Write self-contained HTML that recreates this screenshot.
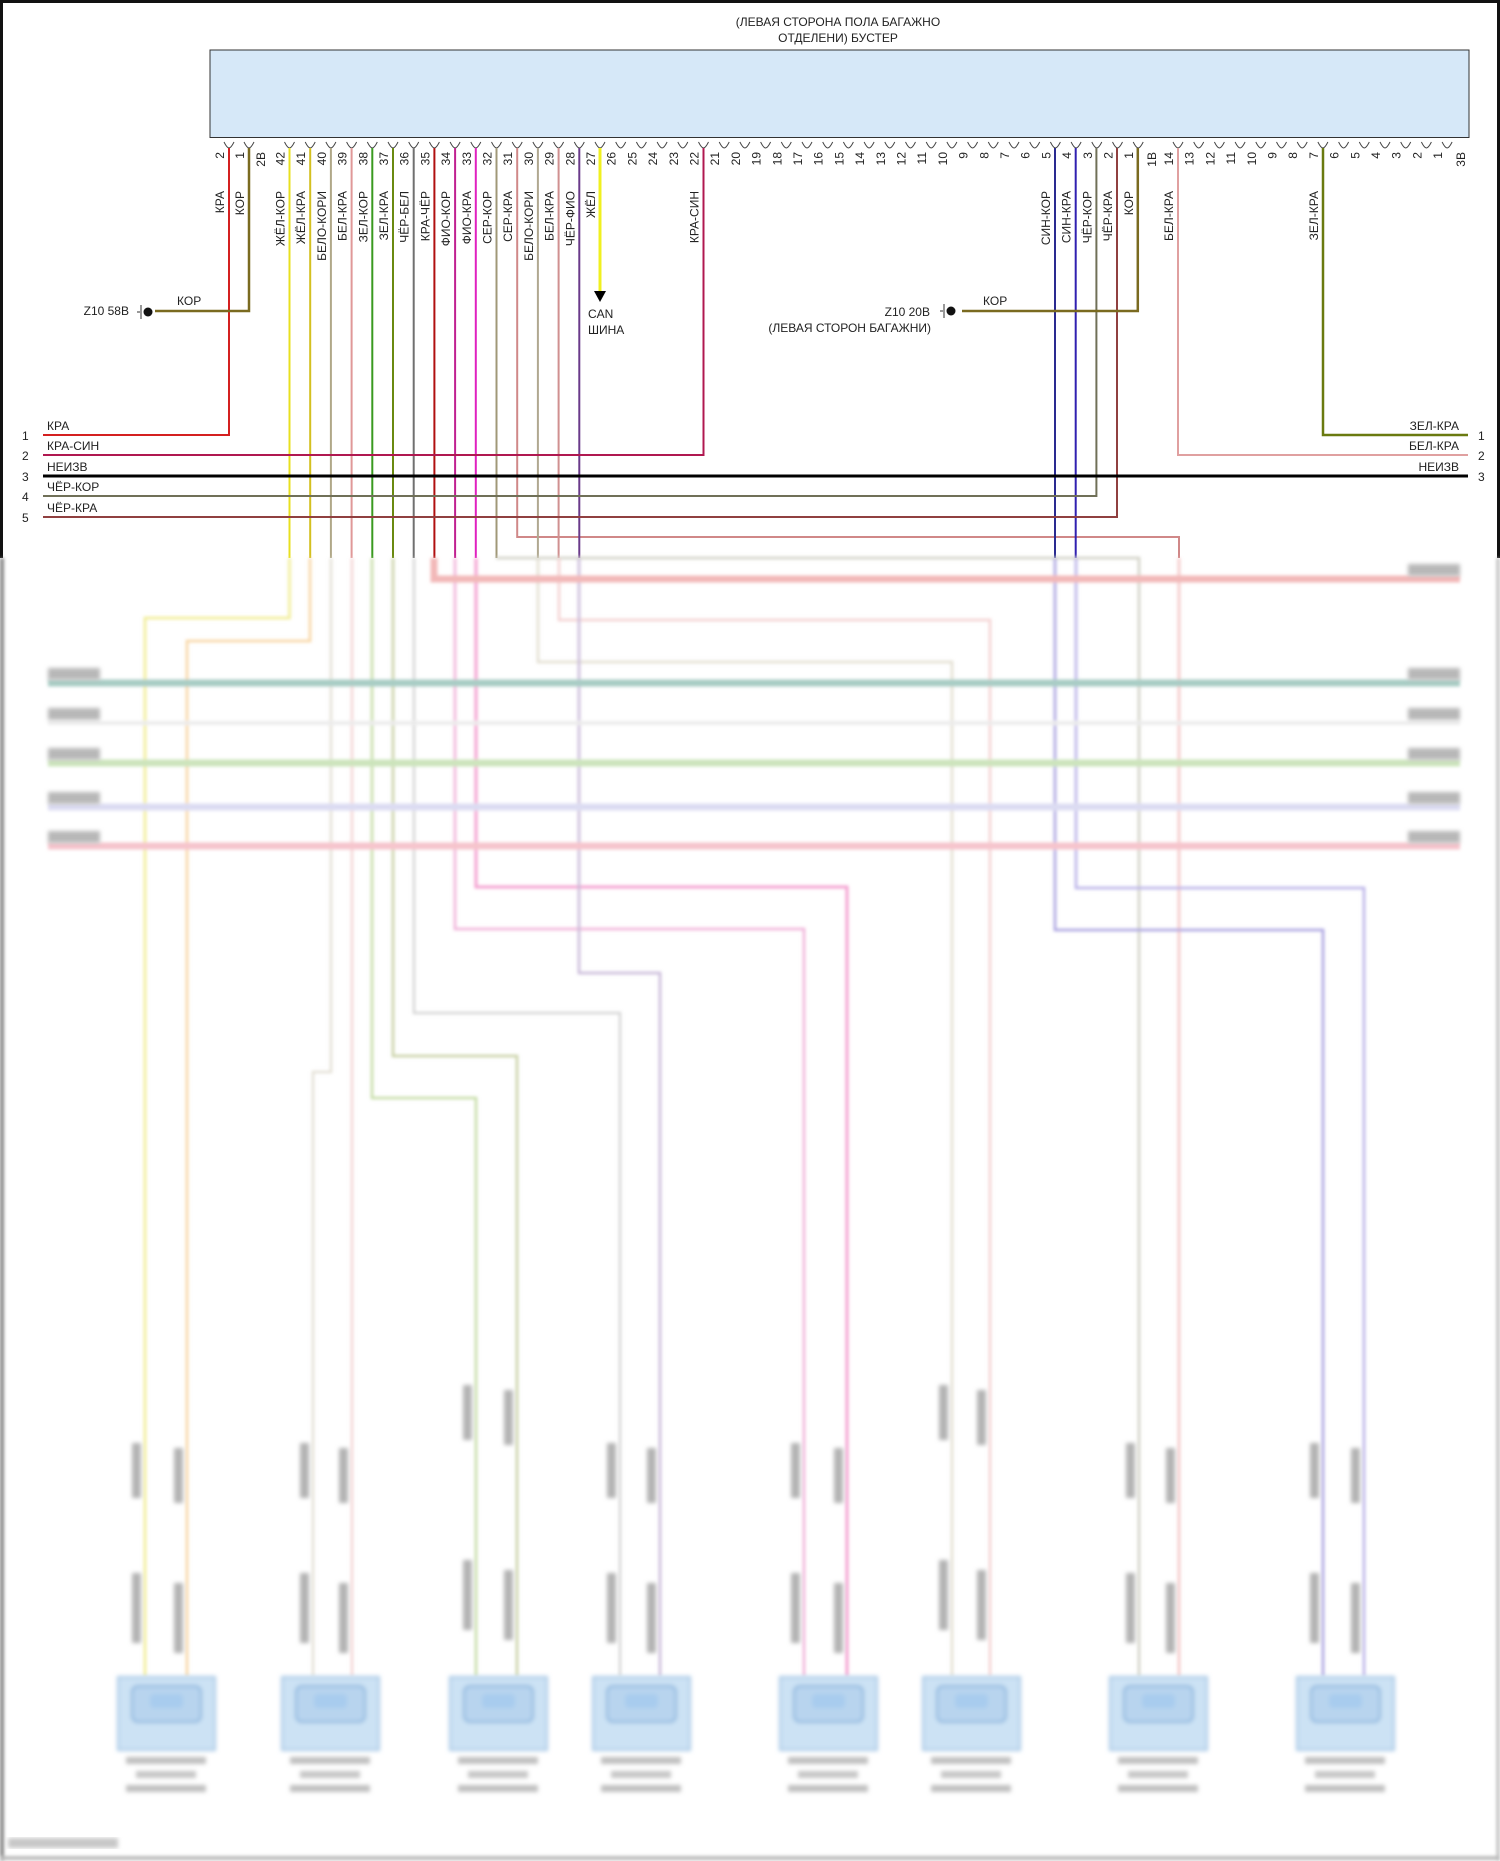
<!DOCTYPE html>
<html><head><meta charset="utf-8"><style>
html,body{margin:0;padding:0;background:#fff}
svg{display:block}
text{font-family:"Liberation Sans",sans-serif;font-size:12px;fill:#222}
</style></head><body>
<svg width="1500" height="1861" viewBox="0 0 1500 1861" xmlns="http://www.w3.org/2000/svg">
<defs>
<filter id="b" x="-5%" y="-5%" width="110%" height="110%"><feGaussianBlur stdDeviation="1.6"/></filter>
<filter id="b2"><feGaussianBlur stdDeviation="2.2"/></filter>
</defs>
<rect x="0" y="0" width="1500" height="1861" fill="#fff"/>
<line x1="0" y1="1.5" x2="1500" y2="1.5" stroke="#111" stroke-width="3"/>
<line x1="1.5" y1="0" x2="1.5" y2="558" stroke="#111" stroke-width="3"/>
<line x1="1498.5" y1="0" x2="1498.5" y2="558" stroke="#111" stroke-width="3"/>
<g filter="url(#b)">
<line x1="2" y1="558" x2="2" y2="1861" stroke="#888" stroke-width="4"/>
<line x1="1498" y1="558" x2="1498" y2="1861" stroke="#bbb" stroke-width="3"/>
<line x1="0" y1="1858" x2="1500" y2="1858" stroke="#bbb" stroke-width="4"/>
</g>

<text x="838" y="26" text-anchor="middle">(ЛЕВАЯ СТОРОНА ПОЛА БАГАЖНО</text>
<text x="838" y="42" text-anchor="middle">ОТДЕЛЕНИ) БУСТЕР</text>
<rect x="210" y="50" width="1259" height="87.5" fill="#d6e8f8" stroke="#333" stroke-width="1"/>

<g id="pins" fill="none" stroke="#444" stroke-width="1"></g>
<g id="nums"></g>

<g fill="none" stroke-width="2">
<path d="M229 148V435H43" stroke="#d42020"/>
<path d="M249 148V311H155" stroke="#7a6a20" stroke-width="2.5"/>
<path d="M289.5 148V558" stroke="#e8e020"/>
<path d="M310.2 148V558" stroke="#d4c020"/>
<path d="M330.9 148V558" stroke="#b0a888"/>
<path d="M351.6 148V558" stroke="#e09898"/>
<path d="M372.3 148V558" stroke="#3a9a20"/>
<path d="M393 148V558" stroke="#6a8a10"/>
<path d="M413.7 148V558" stroke="#707070"/>
<path d="M434.4 148V558" stroke="#b01010"/>
<path d="M455.1 148V558" stroke="#c02090"/>
<path d="M475.8 148V558" stroke="#e020c0"/>
<path d="M496.5 148V558" stroke="#a09878"/>
<path d="M517.2 148V537H1179V558" stroke="#d08888"/>
<path d="M537.9 148V558" stroke="#b0a890"/>
<path d="M558.6 148V558" stroke="#d09090"/>
<path d="M579.3 148V558" stroke="#6a3a8a"/>
<path d="M600 148V292" stroke="#f0f020" stroke-width="3"/>
<path d="M703.5 148V455H43" stroke="#b01850"/>
<path d="M1055 148V558" stroke="#2a2a90"/>
<path d="M1075.7 148V558" stroke="#3020b0"/>
<path d="M1096.4 148V496H43" stroke="#707058"/>
<path d="M1117 148V517H43" stroke="#904040"/>
<path d="M1137.8 148V311H962" stroke="#7a6a20" stroke-width="2.5"/>
<path d="M1178 148V455H1468" stroke="#e0a0a0"/>
<path d="M1323 148V435H1468" stroke="#6a7a10" stroke-width="2.5"/>
<path d="M43 476H1468" stroke="#000" stroke-width="3"/>
</g>
<polygon points="594,291 606,291 600,302" fill="#000"/>
<text x="588" y="318">CAN</text>
<text x="588" y="334">ШИНА</text>

<text x="129" y="315" text-anchor="end">Z10 58B</text>
<g stroke="#333" stroke-width="1"><line x1="137" y1="312" x2="140" y2="312"/><line x1="141" y1="305" x2="141" y2="319"/></g>
<circle cx="148" cy="312" r="4.5" fill="#111"/>
<text x="177" y="305">КОР</text>
<text x="930" y="316" text-anchor="end">Z10 20B</text>
<text x="931" y="332" text-anchor="end">(ЛЕВАЯ СТОРОН БАГАЖНИ)</text>
<g stroke="#333" stroke-width="1"><line x1="940" y1="311" x2="943" y2="311"/><line x1="944" y1="304" x2="944" y2="318"/></g>
<circle cx="951" cy="311" r="4.5" fill="#111"/>
<text x="983" y="305">КОР</text>

<text x="47" y="430">КРА</text>
<text x="47" y="450">КРА-СИН</text>
<text x="47" y="471">НЕИЗВ</text>
<text x="47" y="491">ЧЁР-КОР</text>
<text x="47" y="512">ЧЁР-КРА</text>
<text x="22" y="440">1</text>
<text x="22" y="460">2</text>
<text x="22" y="481">3</text>
<text x="22" y="501">4</text>
<text x="22" y="522">5</text>
<text x="1459" y="430" text-anchor="end">ЗЕЛ-КРА</text>
<text x="1459" y="450" text-anchor="end">БЕЛ-КРА</text>
<text x="1459" y="471" text-anchor="end">НЕИЗВ</text>
<text x="1478" y="440">1</text>
<text x="1478" y="460">2</text>
<text x="1478" y="481">3</text>

<g filter="url(#b)" fill="none" stroke-width="2.5">
<path d="M289.5 558V618H145V1676" stroke="#f0ec90"/>
<path d="M310 558V641H187V1676" stroke="#f8d4a0"/>
<path d="M331 558V1072H313V1676" stroke="#e4e0d6"/>
<path d="M352 558V1676" stroke="#f4d4d4"/>
<path d="M372 558V1098H476V1676" stroke="#c4dca4"/>
<path d="M393 558V1056H517V1676" stroke="#c8d0a4"/>
<path d="M414 558V1013H620V1676" stroke="#d6d6d6"/>
<path d="M455 558V929H804V1676" stroke="#f0b0d8"/>
<path d="M476 558V887H847V1676" stroke="#f4a0d0" stroke-width="3"/>
<path d="M496 558H1139V1676" stroke="#d0d0c4"/>
<path d="M1179 558V1676" stroke="#f4c4c4"/>
<path d="M538 558V662H952V1676" stroke="#e2ded0"/>
<path d="M559 558V620H990V1676" stroke="#f4d0d0"/>
<path d="M579 558V973H660V1676" stroke="#c8b8d8"/>
<path d="M1055 558V930H1323V1676" stroke="#a8a0e0"/>
<path d="M1076 558V888H1364V1676" stroke="#b8b0e8"/>
<path d="M434 558V579H1460" stroke="#f2b8b8" stroke-width="7"/>
<path d="M48 683H1460" stroke="#a8ccc4" stroke-width="7"/>
<path d="M48 723H1460" stroke="#ececec" stroke-width="4"/>
<path d="M48 763H1460" stroke="#cce4bc" stroke-width="7"/>
<path d="M48 807H1460" stroke="#dcdcf2" stroke-width="7"/>
<path d="M48 846H1460" stroke="#f6c4cc" stroke-width="7"/>
</g>
<g filter="url(#b2)" fill="#b8b8b8">
<rect x="48" y="668" width="52" height="12"/><rect x="48" y="708" width="52" height="12"/><rect x="48" y="748" width="52" height="12"/><rect x="48" y="792" width="52" height="12"/><rect x="48" y="831" width="52" height="12"/>
<rect x="1408" y="564" width="52" height="12"/><rect x="1408" y="668" width="52" height="12"/><rect x="1408" y="708" width="52" height="12"/><rect x="1408" y="748" width="52" height="12"/><rect x="1408" y="792" width="52" height="12"/><rect x="1408" y="831" width="52" height="12"/>
</g>
<g id="bottom"></g>
<g filter="url(#b2)"><rect x="8" y="1838" width="110" height="10" fill="#c8c8c8"/></g>
<script>
var ns="http://www.w3.org/2000/svg";
function el(p,t,a,txt){var e=document.createElementNS(ns,t);for(var k in a)e.setAttribute(k,a[k]);if(txt)e.textContent=txt;p.appendChild(e);return e;}
var pins=document.getElementById('pins'),nums=document.getElementById('nums');
function sock(x){el(pins,'path',{d:'M'+(x-5)+' 142 Q'+(x-2)+' 148 '+x+' 148 Q'+(x+2)+' 148 '+(x+5)+' 142'});}
function num(x,t){el(nums,'text',{transform:'translate('+x+',152) rotate(-90)','text-anchor':'end','font-size':'12'},t);}
function lab(x,t){el(nums,'text',{transform:'translate('+x+',191) rotate(-90)','text-anchor':'end','font-size':'12'},t);}
sock(229);num(224,'2');sock(249);num(244,'1');num(265,'2B');
for(var k=42;k>=1;k--){var x=289.5+(42-k)*20.7;sock(x);num(x-5,String(k));}
num(1156,'1B');
for(var k=14;k>=1;k--){var x=1178+(14-k)*20.7;sock(x);num(x-5,String(k));}
num(1465,'3B');
var L=[[229,'КРА'],[249,'КОР'],[289.5,'ЖЁЛ-КОР'],[310.2,'ЖЁЛ-КРА'],[330.9,'БЕЛО-КОРИ'],[351.6,'БЕЛ-КРА'],[372.3,'ЗЕЛ-КОР'],[393,'ЗЕЛ-КРА'],[413.7,'ЧЁР-БЕЛ'],[434.4,'КРА-ЧЁР'],[455.1,'ФИО-КОР'],[475.8,'ФИО-КРА'],[496.5,'СЕР-КОР'],[517.2,'СЕР-КРА'],[537.9,'БЕЛО-КОРИ'],[558.6,'БЕЛ-КРА'],[579.3,'ЧЁР-ФИО'],[600,'ЖЁЛ'],[703.5,'КРА-СИН'],[1055,'СИН-КОР'],[1075.7,'СИН-КРА'],[1096.4,'ЧЁР-КОР'],[1117,'ЧЁР-КРА'],[1137.8,'КОР'],[1178,'БЕЛ-КРА'],[1323,'ЗЕЛ-КРА']];
L.forEach(function(a){lab(a[0]-5,a[1]);});
var bot=document.getElementById('bottom');
var g=el(bot,'g',{filter:'url(#b2)'});
var boxes=[[118,145,187],[282,313,352],[450,476,517],[593,620,660],[780,804,847],[923,952,990],[1110,1139,1179],[1297,1323,1364]];
var high={450:1,923:1};
boxes.forEach(function(b){
 var x=b[0];
 el(g,'rect',{x:x,y:1677,width:97,height:73,fill:'#cce2f4',stroke:'#a4c6e4','stroke-width':2});
 el(g,'rect',{x:x+14,y:1686,width:69,height:36,rx:6,fill:'#b8d4ee',stroke:'#8ab4dc','stroke-width':2});
 el(g,'rect',{x:x+32,y:1694,width:33,height:14,rx:4,fill:'#a8ccee'});
 el(g,'rect',{x:x+8,y:1757,width:80,height:7,fill:'#c0c0c0'});
 el(g,'rect',{x:x+18,y:1771,width:60,height:7,fill:'#c6c6c6'});
 el(g,'rect',{x:x+8,y:1785,width:80,height:7,fill:'#c0c0c0'});
 [b[1],b[2]].forEach(function(w,i){
  var y1=high[x]?1385:1443, y2=high[x]?1560:1573;
  el(g,'rect',{x:w-13,y:y1+(i?5:0),width:9,height:55,fill:'#b4b4b4'});
  el(g,'rect',{x:w-13,y:y2+(i?10:0),width:9,height:70,fill:'#b4b4b4'});
 });
});
</script>
</svg>
</body></html>
